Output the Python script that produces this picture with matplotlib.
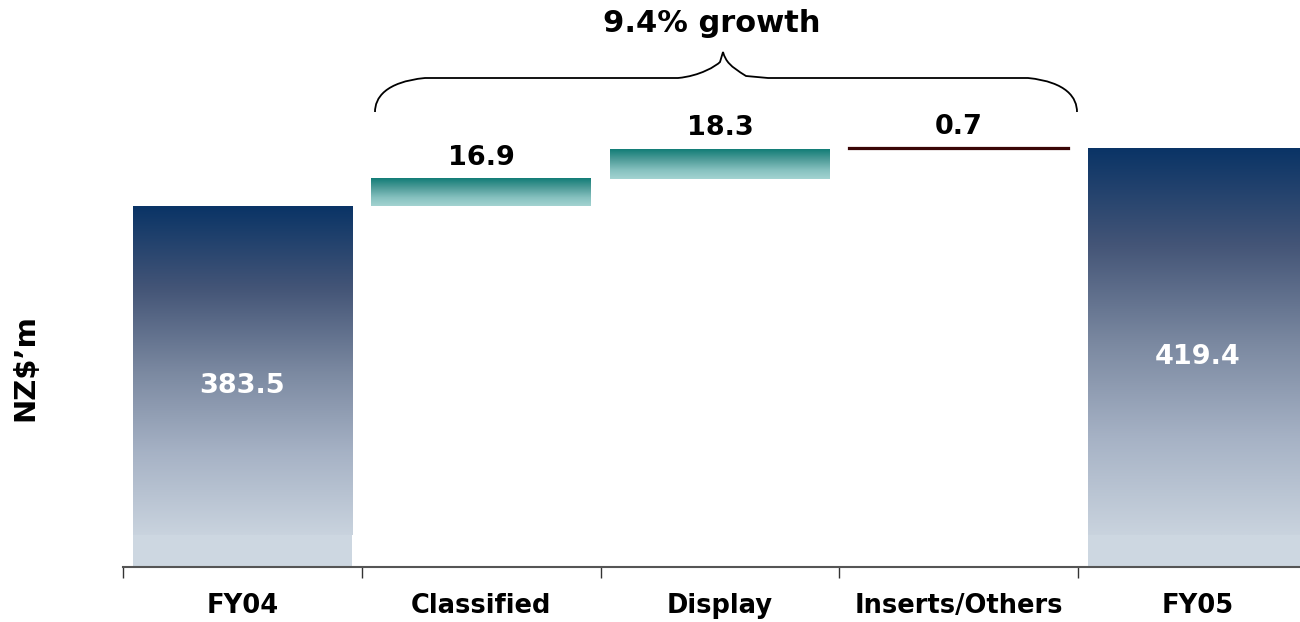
import numpy as np
import matplotlib
matplotlib.use("Agg")
import matplotlib.pyplot as plt
from matplotlib.colors import LinearSegmentedColormap
from matplotlib.path import Path
from matplotlib.patches import PathPatch, Rectangle

# Revenue bridge FY04 -> FY05 (NZ$m)
categories = ["FY04", "Classified", "Display", "Inserts/Others", "FY05"]
values = [383.5, 16.9, 18.3, 0.7, 419.4]
is_total = [True, False, False, False, True]
growth_label = "9.4% growth"

plt.rcParams["font.family"] = ["DejaVu Sans"]

W, H, DPI = 1300, 622, 100
fig = plt.figure(figsize=(W / DPI, H / DPI), dpi=DPI)

# axes geometry (pixels): baseline at y=567, first category edge at x=123
px_left, px_base, cat_px = 123, 567, 238.8
ax = fig.add_axes([px_left / W, (H - px_base) / H, (W - px_left) / W, px_base / H])
y_min = 160.0
px_per_unit = 1.6156
y_max = y_min + px_base / px_per_unit
x_lim = (-0.5, -0.5 + (W - px_left) / cat_px)

navy = LinearSegmentedColormap.from_list(
    "navy", [(0.0, "#0a3466"), (0.25, "#445577"), (0.5, "#7a88a0"),
             (0.75, "#a6b2c5"), (1.0, "#c9d3de")])
teal = LinearSegmentedColormap.from_list(
    "teal", [(0.0, "#127d77"), (0.35, "#4f9c99"), (0.7, "#86c1bf"), (1.0, "#a3d3d1")])

bar_w = 0.92
grad = np.linspace(0, 1, 256).reshape(-1, 1)
running = 0.0
for i, (cat, v, tot) in enumerate(zip(categories, values, is_total)):
    x0, x1 = i - bar_w / 2, i + bar_w / 2
    if tot:
        top = v
        flat_top = 180.0
        ax.imshow(grad, cmap=navy, aspect="auto", extent=[x0, x1, flat_top, top],
                  origin="upper", zorder=2, interpolation="bilinear")
        ax.add_patch(Rectangle((x0, y_min), bar_w, flat_top - y_min,
                               facecolor="#cdd7e1", edgecolor="none", zorder=2))
        ax.text(i, (y_min + top) / 2, f"{v:.1f}", ha="center", va="center",
                color="white", fontsize=19.5, fontweight="bold", zorder=5)
        running = v
    else:
        bottom, top = running, running + v
        if v >= 5:
            ax.imshow(grad, cmap=teal, aspect="auto", extent=[x0, x1, bottom, top],
                      origin="upper", zorder=2, interpolation="bilinear")
        else:
            ax.bar(i, v, bottom=bottom, width=bar_w, color="#3a0606",
                   edgecolor="#3a0606", linewidth=1.6, zorder=2)
        ax.annotate(f"{v:.1f}", xy=(i, top), xytext=(0, 10), textcoords="offset points",
                    ha="center", va="baseline", fontsize=19.5, fontweight="bold",
                    color="black", zorder=5)
        running = top

ax.set_xlim(*x_lim)
ax.set_ylim(y_min, y_max)

# axis styling
for s in ["top", "right", "left"]:
    ax.spines[s].set_visible(False)
ax.spines["bottom"].set_color("#555555")
ax.spines["bottom"].set_linewidth(1.5)
ax.set_yticks([])
ax.set_xticks(np.arange(-0.5, len(categories) + 0.5, 1.0))
ax.set_xticklabels([])
ax.tick_params(axis="x", length=8, width=1.0, color="#333333", direction="out")
ax.set_xlim(*x_lim)
for i, cat in enumerate(categories):
    ax.text(i, y_min - 39 / px_per_unit, cat, ha="center", va="center",
            fontsize=18.5, fontweight="bold", color="black", clip_on=False)

# curly brace spanning the three increments
def py(p):
    return y_min + (px_base - p) / px_per_unit
def pxx(p):
    return (p - px_left) / cat_px - 0.5
verts = [
    (pxx(375), py(112)), (pxx(375), py(98)), (pxx(385), py(82)), (pxx(425), py(78)),
    (pxx(678), py(78)),
    (pxx(700), py(76)), (pxx(716), py(66)), (pxx(720), py(62)),
    (pxx(723), py(52)),
    (pxx(726), py(62)), (pxx(730), py(66)), (pxx(746), py(76)),
    (pxx(768), py(78)),
    (pxx(1028), py(78)),
    (pxx(1067), py(82)), (pxx(1077), py(98)), (pxx(1077), py(112)),
]
codes = [Path.MOVETO, Path.CURVE4, Path.CURVE4, Path.CURVE4,
         Path.LINETO,
         Path.CURVE4, Path.CURVE4, Path.CURVE4,
         Path.LINETO,
         Path.CURVE4, Path.CURVE4, Path.CURVE4,
         Path.LINETO,
         Path.LINETO,
         Path.CURVE4, Path.CURVE4, Path.CURVE4]
ax.add_patch(PathPatch(Path(verts, codes), facecolor="none", edgecolor="black",
                       linewidth=1.3, zorder=4, clip_on=False))

fig.text(712 / W, 1 - 24 / H, growth_label, ha="center", va="center",
         fontsize=22, fontweight="bold")
fig.text(25 / W, 1 - 368 / H, "NZ$\u2019m", ha="center", va="center",
         rotation=90, fontsize=21, fontweight="bold")

fig.savefig("out.png", dpi=DPI)
